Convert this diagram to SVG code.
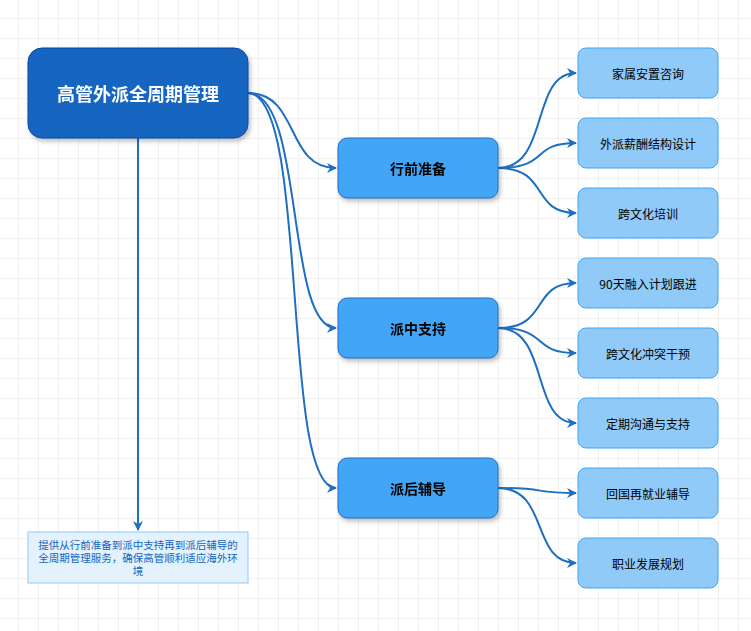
<svg xmlns="http://www.w3.org/2000/svg" width="751" height="631" viewBox="0 0 751 631">
<defs>
<pattern id="grid" x="-2" y="-2" width="20" height="20" patternUnits="userSpaceOnUse"><path d="M20 0H0V20" fill="none" stroke="#e4e4e4" stroke-width="1"/></pattern>
<marker id="ah" viewBox="0 0 10 10" refX="9" refY="5" markerWidth="5" markerHeight="5" orient="auto"><path d="M0 0L10 5L0 10L3 5Z" fill="#1E6FC0"/></marker>
<filter id="sh" x="-10%" y="-10%" width="130%" height="140%"><feDropShadow dx="2" dy="3" stdDeviation="2" flood-opacity="0.25"/></filter>
<style>
.e{fill:none;stroke:#1E6FC0;stroke-width:2;marker-end:url(#ah)}
.m rect{fill:#42A5F5;stroke:#1E6FC0;stroke-width:1}
.l rect{fill:#90CAF9;stroke:#42A5F5;stroke-width:1}
text{font-family:"Noto Sans CJK SC","Liberation Sans",sans-serif;text-anchor:middle;dominant-baseline:central}
.m text{font-size:14px;font-weight:bold;fill:#000}
.l text{font-size:12px;fill:#000}
</style>
</defs>
<rect width="751" height="631" fill="#fff"/>
<rect width="751" height="631" fill="url(#grid)"/>
<g id="connectors">
<path class="e" d="M248 93C300 93 285 168 336 168"/>
<path class="e" d="M248 93C305 93 285 328 336 328"/>
<path class="e" d="M248 93C310 93 280 488 336 488"/>
<path class="e" d="M138 138V530"/>
<path class="e" d="M498 168C550 168 530 73 576 73"/>
<path class="e" d="M498 168C550 168 530 143 576 143"/>
<path class="e" d="M498 168C550 168 530 213 576 213"/>
<path class="e" d="M498 328C550 328 530 283 576 283"/>
<path class="e" d="M498 328C550 328 530 353 576 353"/>
<path class="e" d="M498 328C550 328 530 423 576 423"/>
<path class="e" d="M498 488C550 488 530 493 576 493"/>
<path class="e" d="M498 488C550 488 530 563 576 563"/>
</g>
<g id="root" filter="url(#sh)"><rect x="28" y="48" width="220" height="90" rx="14" fill="#1565C0" stroke="#0D47A1"/><text x="138" y="93" font-size="18" font-weight="bold" fill="#fff">高管外派全周期管理</text></g>
<g id="m1" class="m" filter="url(#sh)"><rect x="338" y="138" width="160" height="60" rx="9"/><text x="418" y="168">行前准备</text></g>
<g id="m2" class="m" filter="url(#sh)"><rect x="338" y="298" width="160" height="60" rx="9"/><text x="418" y="328">派中支持</text></g>
<g id="m3" class="m" filter="url(#sh)"><rect x="338" y="458" width="160" height="60" rx="9"/><text x="418" y="488">派后辅导</text></g>
<g id="l1" class="l"><rect x="578" y="48" width="140" height="50" rx="8"/><text x="648" y="73">家属安置咨询</text></g>
<g id="l2" class="l"><rect x="578" y="118" width="140" height="50" rx="8"/><text x="648" y="143">外派薪酬结构设计</text></g>
<g id="l3" class="l"><rect x="578" y="188" width="140" height="50" rx="8"/><text x="648" y="213">跨文化培训</text></g>
<g id="l4" class="l"><rect x="578" y="258" width="140" height="50" rx="8"/><text x="648" y="283">90天融入计划跟进</text></g>
<g id="l5" class="l"><rect x="578" y="328" width="140" height="50" rx="8"/><text x="648" y="353">跨文化冲突干预</text></g>
<g id="l6" class="l"><rect x="578" y="398" width="140" height="50" rx="8"/><text x="648" y="423">定期沟通与支持</text></g>
<g id="l7" class="l"><rect x="578" y="468" width="140" height="50" rx="8"/><text x="648" y="493">回国再就业辅导</text></g>
<g id="l8" class="l"><rect x="578" y="538" width="140" height="50" rx="8"/><text x="648" y="563">职业发展规划</text></g>
<g id="note"><rect x="28" y="532" width="220" height="51" fill="#E3F2FD" stroke="#90CAF9"/>
<text font-size="10.5" fill="#1565C0"><tspan x="138" y="544">提供从行前准备到派中支持再到派后辅导的</tspan><tspan x="138" y="557">全周期管理服务，确保高管顺利适应海外环</tspan><tspan x="138" y="570">境</tspan></text></g>
</svg>
